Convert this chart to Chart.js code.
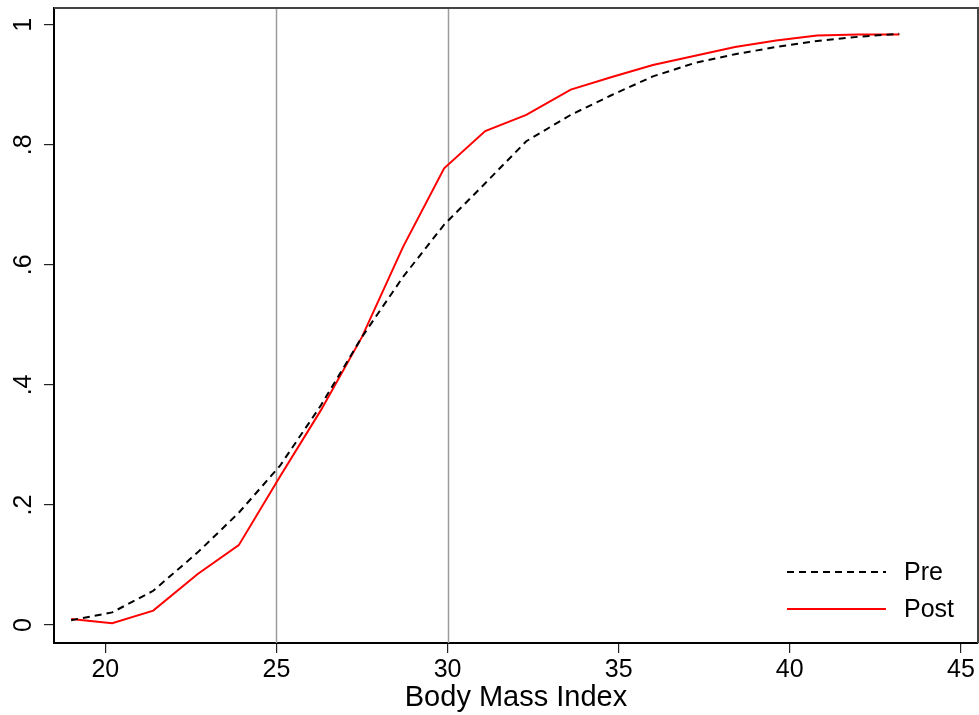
<!DOCTYPE html>
<html lang="en">
<head>
  <meta charset="UTF-8">
  <title>Body Mass Index</title>
  <style>
    body { margin: 0; background: #fff; }
    .chartContainer { position: relative; width: 979px; height: 715px; }
  </style>
</head>
<body>
  <div class="chartContainer">
    <canvas id="myChart"></canvas>
  </div>
  <script src="https://cdn.jsdelivr.net/npm/chart.js"></script>
  <script>
    // values
    const bmi = [19.0, 20.2, 21.4, 22.7, 23.9, 25.1, 26.3, 27.5, 28.7, 29.9, 31.1,
                 32.3, 33.6, 34.8, 36.0, 37.2, 38.4, 39.6, 40.8, 42.0, 43.2]
    const pre = [0.008, 0.021, 0.057, 0.121, 0.187, 0.265, 0.366, 0.480, 0.580, 0.667, 0.736,
                 0.806, 0.850, 0.883, 0.914, 0.936, 0.951, 0.963, 0.973, 0.980, 0.985]
    const post = [0.010, 0.003, 0.024, 0.085, 0.133, 0.247, 0.358, 0.480, 0.630, 0.761, 0.823,
                  0.850, 0.892, 0.913, 0.933, 0.948, 0.963, 0.974, 0.982, 0.984, 0.984]
    const refLines = [25, 30]
    const xTickValues = [20, 25, 30, 35, 40, 45]
    const yTickValues = [0, 0.2, 0.4, 0.6, 0.8, 1]
    const yTickLabels = ['0', '.2', '.4', '.6', '.8', '1']

    const fontFamily = '"Liberation Sans", Arial, Helvetica, sans-serif'

    function toPoints(ys){
      return bmi.map((x, i) => ({x: x, y: ys[i]}))
    }

    // grey vertical lines, box frame, rotated y labels and inner legend
    const extras = {
      id: 'extras',
      beforeDatasetsDraw(chart){
        const ctx = chart.ctx
        const xs = chart.scales.x
        const area = chart.chartArea
        ctx.save()
        ctx.strokeStyle = '#9c9c9c'
        ctx.lineWidth = 1.5
        refLines.forEach(v => {
          const px = Math.round(xs.getPixelForValue(v)) + 0.5
          ctx.beginPath()
          ctx.moveTo(px, area.top)
          ctx.lineTo(px, area.bottom)
          ctx.stroke()
        })
        ctx.restore()
      },
      afterDraw(chart){
        const ctx = chart.ctx
        const ys = chart.scales.y
        const area = chart.chartArea
        ctx.save()
        // top and right side of the box
        ctx.strokeStyle = '#444'
        ctx.lineWidth = 2
        ctx.beginPath()
        ctx.moveTo(area.left, area.top)
        ctx.lineTo(area.right, area.top)
        ctx.lineTo(area.right, area.bottom)
        ctx.stroke()

        // y tick labels, turned to read upwards
        ctx.fillStyle = '#000'
        ctx.font = '25px ' + fontFamily
        ctx.textAlign = 'center'
        ctx.textBaseline = 'middle'
        yTickValues.forEach((v, i) => {
          const py = ys.getPixelForValue(v)
          ctx.save()
          ctx.translate(24, py)
          ctx.rotate(-Math.PI / 2)
          ctx.fillText(yTickLabels[i], 0, 0)
          ctx.restore()
        })

        // legend in the lower right corner
        ctx.font = '25px ' + fontFamily
        ctx.textAlign = 'left'
        chart.data.datasets.forEach((ds, i) => {
          const ly = 572 + i * 37
          ctx.strokeStyle = ds.borderColor
          ctx.lineWidth = ds.borderWidth
          ctx.setLineDash(ds.borderDash || [])
          ctx.beginPath()
          ctx.moveTo(787, ly)
          ctx.lineTo(886, ly)
          ctx.stroke()
          ctx.setLineDash([])
          ctx.fillStyle = '#000'
          ctx.fillText(ds.label, 904, ly + 1)
        })
        ctx.restore()
      }
    }

    const data = {
      datasets: [{
        label: 'Pre',
        borderColor: '#000',
        backgroundColor: '#000',
        borderWidth: 2,
        borderDash: [7, 5],
        data: toPoints(pre)
      },
      {
        label: 'Post',
        borderColor: '#ff0000',
        backgroundColor: '#ff0000',
        borderWidth: 2,
        data: toPoints(post)
      }]
    }

    const config = {
      type: 'line',
      data: data,
      options: {
        responsive: true,
        maintainAspectRatio: false,
        animation: false,
        layout: { padding: { top: 8, right: 1, left: 0, bottom: 0 } },
        elements: {
          point: { radius: 0 },
          line: { tension: 0 }
        },
        plugins: {
          legend: { display: false },
          tooltip: { enabled: false }
        },
        scales: {
          x: {
            type: 'linear',
            min: 18.5,
            max: 45.5,
            afterBuildTicks: (scale) => { scale.ticks = xTickValues.map(v => ({value: v})) },
            afterFit: (scale) => { scale.height = 72 },
            border: { display: true, color: '#000', width: 2 },
            grid: { drawOnChartArea: false, drawTicks: true, tickLength: 10, color: '#222', lineWidth: 1.2 },
            ticks: {
              padding: 2,
              color: '#000',
              font: { family: fontFamily, size: 25 },
              maxRotation: 0,
              callback: (v) => String(v)
            },
            title: {
              display: true,
              text: 'Body Mass Index',
              color: '#000',
              font: { family: fontFamily, size: 29 },
              padding: { top: 0, bottom: 0 }
            }
          },
          y: {
            type: 'linear',
            min: -0.03,
            max: 1.028,
            afterBuildTicks: (scale) => { scale.ticks = yTickValues.map(v => ({value: v})) },
            afterFit: (scale) => { scale.width = 54 },
            border: { display: true, color: '#000', width: 2 },
            grid: { drawOnChartArea: false, drawTicks: true, tickLength: 10, color: '#222', lineWidth: 1.2 },
            ticks: { display: false }
          }
        }
      },
      plugins: [extras]
    }

    const myChart = new Chart(document.getElementById('myChart'), config)
  </script>
</body>
</html>
